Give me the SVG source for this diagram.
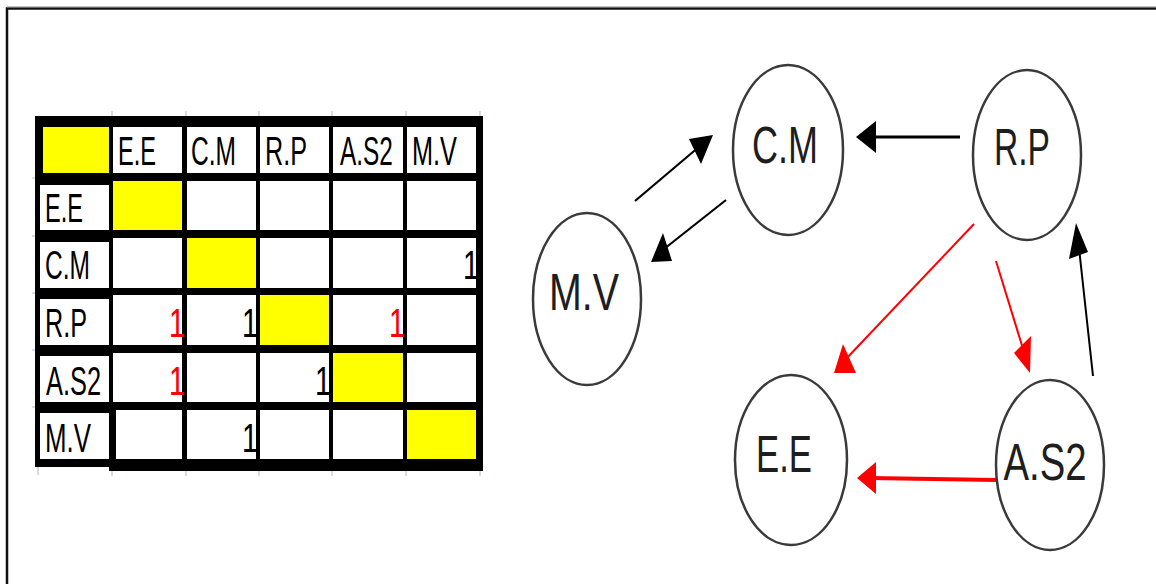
<svg xmlns="http://www.w3.org/2000/svg" width="1156" height="584" viewBox="0 0 1156 584">
<defs>
<style>
.cell{fill:#fff}
.yel{fill:#ffff00}
.tt{font-family:"Liberation Sans",Arial,sans-serif;font-size:40px;fill:#000}
.red{fill:#ff0000}
.node ellipse{fill:#fff;stroke:#3a3a3a;stroke-width:2.5}
.nt{font-family:"Liberation Sans",Arial,sans-serif;font-size:52px;fill:#1e1e1e;text-anchor:middle}
.tick{stroke:#c8d0e0;stroke-width:1.5}
.ab{stroke:#000;fill:none}
.ar{stroke:#ff0000;fill:none}
</style>
</defs>
<rect width="1156" height="584" fill="#fff"/>
<path d="M7,584 V8.5 H1156" fill="none" stroke="#111" stroke-width="2.5"/>
<line x1="7" y1="6.8" x2="1156" y2="6.8" stroke="#aaa" stroke-width="1"/>

<g id="matrix">
<g class="tick">
<line x1="112" y1="111" x2="112" y2="116"/><line x1="186" y1="111" x2="186" y2="116"/><line x1="259" y1="111" x2="259" y2="116"/><line x1="332" y1="111" x2="332" y2="116"/><line x1="406" y1="111" x2="406" y2="116"/><line x1="480" y1="111" x2="480" y2="116"/>
<line x1="32" y1="178" x2="35" y2="178"/><line x1="32" y1="236" x2="35" y2="236"/><line x1="32" y1="293" x2="35" y2="293"/><line x1="32" y1="350" x2="35" y2="350"/><line x1="32" y1="407" x2="35" y2="407"/>
<line x1="38" y1="467" x2="38" y2="475"/><line x1="112" y1="471" x2="112" y2="476"/><line x1="186" y1="471" x2="186" y2="476"/><line x1="259" y1="471" x2="259" y2="476"/><line x1="332" y1="471" x2="332" y2="476"/><line x1="406" y1="471" x2="406" y2="476"/><line x1="480" y1="471" x2="480" y2="476"/>
</g>
<rect x="35" y="116" width="448" height="351" fill="#000"/>
<rect x="109" y="467" width="374" height="4" fill="#000"/>
<!-- header row -->
<rect class="yel" x="43" y="127" width="66" height="46"/>
<rect class="cell" x="113" y="127" width="69" height="46"/>
<rect class="cell" x="187" y="127" width="69" height="46"/>
<rect class="cell" x="260" y="127" width="69" height="46"/>
<rect class="cell" x="333" y="127" width="70" height="46"/>
<rect class="cell" x="407" y="127" width="69" height="46"/>
<!-- label column -->
<rect class="cell" x="40" y="185" width="69" height="45"/>
<rect class="cell" x="40" y="242" width="69" height="46"/>
<rect class="cell" x="40" y="299" width="69" height="46"/>
<rect class="cell" x="40" y="356" width="69" height="46"/>
<rect class="cell" x="40" y="413" width="69" height="46"/>
<!-- row E.E -->
<rect class="yel" x="113" y="181" width="69" height="49"/>
<rect class="cell" x="187" y="181" width="69" height="49"/>
<rect class="cell" x="260" y="181" width="69" height="49"/>
<rect class="cell" x="333" y="181" width="70" height="49"/>
<rect class="cell" x="407" y="181" width="69" height="49"/>
<!-- row C.M -->
<rect class="cell" x="113" y="238" width="69" height="50"/>
<rect class="yel" x="187" y="238" width="69" height="50"/>
<rect class="cell" x="260" y="238" width="69" height="50"/>
<rect class="cell" x="333" y="238" width="70" height="50"/>
<rect class="cell" x="407" y="238" width="69" height="50"/>
<!-- row R.P -->
<rect class="cell" x="113" y="295" width="69" height="50"/>
<rect class="cell" x="187" y="295" width="69" height="50"/>
<rect class="yel" x="260" y="295" width="69" height="50"/>
<rect class="cell" x="333" y="295" width="70" height="50"/>
<rect class="cell" x="407" y="295" width="69" height="50"/>
<!-- row A.S2 -->
<rect class="cell" x="113" y="353" width="69" height="49"/>
<rect class="cell" x="187" y="353" width="69" height="49"/>
<rect class="cell" x="260" y="353" width="69" height="49"/>
<rect class="yel" x="333" y="353" width="70" height="49"/>
<rect class="cell" x="407" y="353" width="69" height="49"/>
<!-- row M.V -->
<rect class="cell" x="116" y="410" width="66" height="49"/>
<rect class="cell" x="187" y="410" width="69" height="49"/>
<rect class="cell" x="260" y="410" width="69" height="49"/>
<rect class="cell" x="333" y="410" width="70" height="49"/>
<rect class="yel" x="407" y="410" width="69" height="49"/>
<!-- header texts -->
<text class="tt" x="118" y="165" textLength="38" lengthAdjust="spacingAndGlyphs">E.E</text>
<text class="tt" x="191" y="165" textLength="45" lengthAdjust="spacingAndGlyphs">C.M</text>
<text class="tt" x="265" y="165" textLength="42" lengthAdjust="spacingAndGlyphs">R.P</text>
<text class="tt" transform="translate(340,165) scale(0.61,1)">A.S2</text>
<text class="tt" x="412" y="165" textLength="45" lengthAdjust="spacingAndGlyphs">M.V</text>
<!-- row labels -->
<text class="tt" x="45" y="222" textLength="38" lengthAdjust="spacingAndGlyphs">E.E</text>
<text class="tt" x="45" y="279" textLength="45" lengthAdjust="spacingAndGlyphs">C.M</text>
<text class="tt" x="45" y="337" textLength="42" lengthAdjust="spacingAndGlyphs">R.P</text>
<text class="tt" x="46" y="395" textLength="55" lengthAdjust="spacingAndGlyphs">A.S2</text>
<text class="tt" x="45" y="452" textLength="46" lengthAdjust="spacingAndGlyphs">M.V</text>
<!-- values -->
<text class="tt" x="463" y="279" textLength="16" lengthAdjust="spacingAndGlyphs">1</text>
<text class="tt red" x="169" y="337" textLength="16" lengthAdjust="spacingAndGlyphs">1</text>
<text class="tt" x="242" y="337" textLength="16" lengthAdjust="spacingAndGlyphs">1</text>
<text class="tt red" x="389" y="337" textLength="16" lengthAdjust="spacingAndGlyphs">1</text>
<text class="tt red" x="169" y="395" textLength="16" lengthAdjust="spacingAndGlyphs">1</text>
<text class="tt" x="315" y="395" textLength="16" lengthAdjust="spacingAndGlyphs">1</text>
<text class="tt" x="242" y="452" textLength="16" lengthAdjust="spacingAndGlyphs">1</text>
</g>

<g id="connectors">
<line class="ab" x1="635" y1="201" x2="700" y2="146" stroke-width="2.2"/>
<path d="M713,135 L689,139 L701,164 z" fill="#000"/>
<line class="ab" x1="726" y1="200" x2="664" y2="249" stroke-width="2.2"/>
<path d="M651,262 L672,261 L663,233 z" fill="#000"/>
<line class="ab" x1="960" y1="137" x2="870" y2="137" stroke-width="3.2"/>
<path d="M856,137 L876,121 L876,153 z" fill="#000"/>
<line class="ar" x1="974" y1="224" x2="845" y2="360" stroke-width="2"/>
<path d="M834,373 L856,373 L843,344 z" fill="#ff0000"/>
<line class="ar" x1="996" y1="261" x2="1024" y2="352" stroke-width="2"/>
<path d="M1030,373 L1014,353 L1031,336 z" fill="#ff0000"/>
<line class="ab" x1="1093" y1="376" x2="1079" y2="248" stroke-width="2"/>
<path d="M1076,223 L1069,259 L1088,252 z" fill="#000"/>
<line class="ar" x1="996" y1="480" x2="870" y2="478" stroke-width="4"/>
<path d="M857,478 L876,462 L876,494 z" fill="#ff0000"/>
</g>

<g id="node-cm" class="node"><ellipse cx="788" cy="150" rx="55" ry="85"/><text class="nt" x="785" y="163" textLength="66" lengthAdjust="spacingAndGlyphs">C.M</text></g>
<g id="node-rp" class="node"><ellipse cx="1027" cy="155" rx="54" ry="85"/><text class="nt" x="1022" y="165" textLength="56" lengthAdjust="spacingAndGlyphs">R.P</text></g>
<g id="node-mv" class="node"><ellipse cx="587" cy="299" rx="54" ry="86"/><text class="nt" x="584" y="310" textLength="70" lengthAdjust="spacingAndGlyphs">M.V</text></g>
<g id="node-ee" class="node"><ellipse cx="791" cy="460" rx="56" ry="85"/><text class="nt" x="784" y="472" textLength="56" lengthAdjust="spacingAndGlyphs">E.E</text></g>
<g id="node-as2" class="node"><ellipse cx="1050" cy="465" rx="54" ry="85"/><text class="nt" x="1045" y="480" textLength="83" lengthAdjust="spacingAndGlyphs">A.S2</text></g>
</svg>
